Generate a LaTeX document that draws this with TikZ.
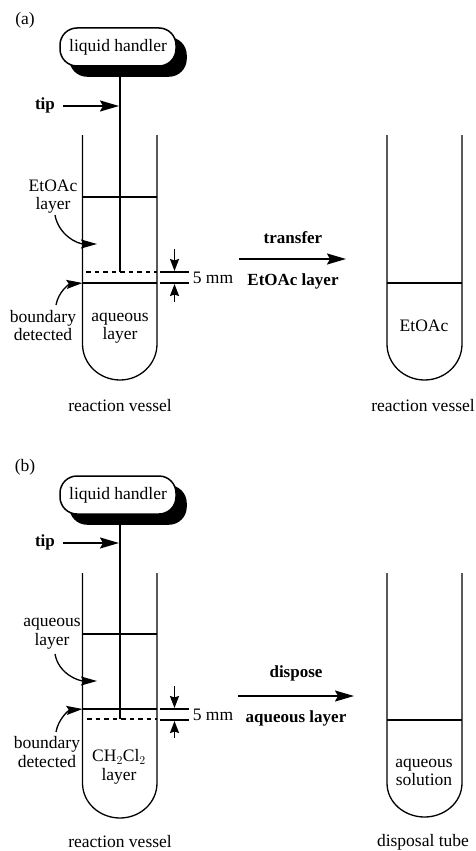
\documentclass[tikz,border=0pt]{standalone}
\usepackage{fontspec}
\setmainfont{Liberation Serif}
\usepackage{tikz}
\usetikzlibrary{arrows.meta}

\begin{document}
\begin{tikzpicture}[x=1pt, y=-1pt]
        \tikzset{
            label_text/.style={inner sep=0pt, align=center, font=\fontsize{17.5}{18.5}\selectfont},
            bold_text/.style={label_text, font=\fontsize{17}{18.5}\selectfont\bfseries},
            handler/.style={draw, shape = rectangle, rounded corners=17pt, line width=1.5pt, fill=white,
                minimum width=116pt, minimum height=38pt, inner sep=0pt, font=\fontsize{17.5}{18.5}\selectfont},
            shadow_box/.style={handler, fill=black},
            vessel/.style={line width=1.3pt},
            tip_line/.style={line width=2.8pt},
            level/.style={line width=1.3pt},
            mark_line/.style={line width=1.6pt},
            boundary_dash/.style={line width=1.4pt, dash pattern=on 4.5pt off 4pt},
            flow/.style={line width=1.8pt, -{Stealth[length=19pt, width=11pt, inset=3pt]}},
            gap_arrow/.style={line width=1.6pt, -{Stealth[length=12pt, width=9pt, inset=1.5pt]}},
            curve_arrow/.style={line width=1.3pt, -{Stealth[length=16pt, width=9pt, inset=2.5pt]}}
        }
        \useasboundingbox (0,0) rectangle (476,851);
        % part (a)
        \node[label_text] (part_a) at (25,20) {(a)};
        \node[shadow_box] (shadow_a) at (128,57) {};
        \node[handler] (handler_a) at (118,47) {liquid handler};
        \coordinate (tip_top_a) at (120,76);
        \coordinate (tip_end_a) at (120,272);
        \draw[tip_line] (tip_top_a) -- (tip_end_a);
        \node[bold_text] (tip_a) at (45,105) {tip};
        \coordinate (tip_to_a) at (119,106);
        \draw[flow] (63,106) -- (tip_to_a);
        % left vessel
        \draw[vessel] (82.5,135) -- (82.5,344) to[out=-90, in=180] (120,380) to[out=0, in=-90] (157,344) -- (157,135);
        \coordinate (top_l_a) at (82.5,197);
        \coordinate (top_r_a) at (157,197);
        \draw[level] (top_l_a) -- (top_r_a);
        \coordinate (bound_l_a) at (82.5,283);
        \coordinate (bound_r_a) at (157,283);
        \draw[level] (bound_l_a) -- (bound_r_a);
        \coordinate (dash_l_a) at (86,272);
        \coordinate (dash_r_a) at (157,272);
        \draw[boundary_dash] (dash_l_a) -- (dash_r_a);
        \coordinate (mark_u_l_a) at (160,272);
        \coordinate (mark_u_r_a) at (189,272);
        \coordinate (mark_d_l_a) at (160,283);
        \coordinate (mark_d_r_a) at (189,283);
        \draw[mark_line] (mark_u_l_a) -- (mark_u_r_a);
        \draw[mark_line] (mark_d_l_a) -- (mark_d_r_a);
        \draw[gap_arrow] (174.5,249) -- (174.5,271);
        \draw[gap_arrow] (174.5,302) -- (174.5,284);
        \node[label_text] (gap_a) at (213,278) {5 mm};
        \node[label_text] (etoac_a) at (53,196.5) {EtOAc\\layer};
        \coordinate (etoac_to_a) at (97,244);
        \draw[curve_arrow] (55,215) to[out=-80, in=180] (etoac_to_a);
        \node[label_text] (detect_a) at (43,325.5) {boundary\\detected};
        \draw[curve_arrow] (56,305) to[out=80, in=185] (bound_l_a);
        \node[label_text] (aqueous_a) at (120,328) {aqueous\\layer};
        \node[label_text] (vessel_a) at (120,406) {reaction vessel};
        % transfer
        \coordinate (flow_from_a) at (239,259);
        \coordinate (flow_to_a) at (346,259);
        \draw[flow] (flow_from_a) -- (flow_to_a);
        \node[bold_text] (transfer) at (293,238) {transfer};
        \node[bold_text] (transfer_what) at (293,281) {EtOAc layer};
        % right vessel
        \draw[vessel] (387,135) -- (387,344) to[out=-90, in=180] (424.5,380) to[out=0, in=-90] (462,344) -- (462,135);
        \coordinate (right_l_a) at (387,283);
        \coordinate (right_r_a) at (462,283);
        \draw[level] (right_l_a) -- (right_r_a);
        \node[label_text] (etoac_right) at (424,326) {EtOAc};
        \node[label_text] (vessel_right_a) at (423,406) {reaction vessel};
        % part (b)
        \node[label_text] (part_b) at (25,467) {(b)};
        \node[shadow_box] (shadow_b) at (128,505) {};
        \node[handler] (handler_b) at (118,495) {liquid handler};
        \coordinate (tip_top_b) at (120,524);
        \coordinate (tip_end_b) at (120,719);
        \draw[tip_line] (tip_top_b) -- (tip_end_b);
        \node[bold_text] (tip_b) at (45,542) {tip};
        \coordinate (tip_to_b) at (119,543);
        \draw[flow] (63,543) -- (tip_to_b);
        % left vessel
        \draw[vessel] (82.5,573) -- (82.5,783) to[out=-90, in=180] (120,818) to[out=0, in=-90] (157,783) -- (157,573);
        \coordinate (top_l_b) at (82.5,634);
        \coordinate (top_r_b) at (157,634);
        \draw[level] (top_l_b) -- (top_r_b);
        \coordinate (bound_l_b) at (82.5,709);
        \coordinate (bound_r_b) at (157,709);
        \draw[level] (bound_l_b) -- (bound_r_b);
        \coordinate (dash_l_b) at (87,719);
        \coordinate (dash_r_b) at (157,719);
        \draw[boundary_dash] (dash_l_b) -- (dash_r_b);
        \coordinate (mark_u_l_b) at (160,709);
        \coordinate (mark_u_r_b) at (189,709);
        \coordinate (mark_d_l_b) at (160,720);
        \coordinate (mark_d_r_b) at (189,720);
        \draw[mark_line] (mark_u_l_b) -- (mark_u_r_b);
        \draw[mark_line] (mark_d_l_b) -- (mark_d_r_b);
        \draw[gap_arrow] (174.5,686) -- (174.5,708);
        \draw[gap_arrow] (174.5,738) -- (174.5,721);
        \node[label_text] (gap_b) at (213,715) {5 mm};
        \node[label_text] (aqueous_top_b) at (52,633.5) {aqueous\\layer};
        \coordinate (aqueous_to_b) at (97,681);
        \draw[curve_arrow] (55,654) to[out=-80, in=180] (aqueous_to_b);
        \node[label_text] (detect_b) at (47,752) {boundary\\detected};
        \draw[curve_arrow] (56,732) to[out=80, in=185] (bound_l_b);
        \node[label_text] (solvent_b) at (119,767) {CH$_2$Cl$_2$\\layer};
        \node[label_text] (vessel_b) at (120,842) {reaction vessel};
        % dispose
        \coordinate (flow_from_b) at (238,696);
        \coordinate (flow_to_b) at (354,696);
        \draw[flow] (flow_from_b) -- (flow_to_b);
        \node[bold_text] (dispose) at (296,673) {dispose};
        \node[bold_text] (dispose_what) at (296,718) {aqueous layer};
        % right tube
        \draw[vessel] (387,573) -- (387,783) to[out=-90, in=180] (424.5,817) to[out=0, in=-90] (462,783) -- (462,573);
        \coordinate (right_l_b) at (387,720);
        \coordinate (right_r_b) at (462,720);
        \draw[level] (right_l_b) -- (right_r_b);
        \node[label_text] (solution) at (424,772.5) {aqueous\\solution};
        \node[label_text] (tube) at (423,842) {disposal tube};
\end{tikzpicture}
\end{document}
